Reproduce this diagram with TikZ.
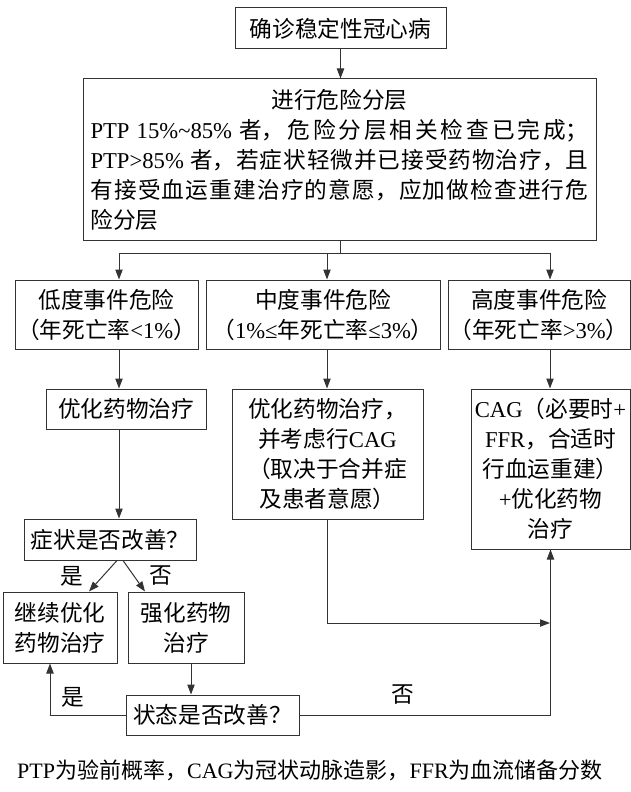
\documentclass[tikz,border=0pt]{standalone}
\usepackage{fontspec}
\setmainfont{Noto Sans CJK SC}
\newfontfamily\lat{Liberation Serif}
\usetikzlibrary{arrows.meta}
\newdimen\px \px=0.75pt
\tikzset{box/.style={draw=black!80,line width=0.75pt,inner sep=0pt,align=center,font=\fontsize{17}{22.5}\selectfont},
  arr/.style={draw=black!80,line width=0.75pt,-{Triangle[length=7.5pt,width=5.5pt]}},
  lbl/.style={font=\fontsize{17}{22.5}\selectfont}}

\begin{document}
\begin{tikzpicture}[x=0.75pt,y=-0.75pt]
\useasboundingbox (0,0) rectangle (631,792);

% create the nodes
\node[box,minimum width=211\px,minimum height=41\px] (top) at (340.5,28.5) {确诊稳定性冠心病};
\node[box,minimum width=513\px,minimum height=161\px,text width=498\px,align=justify] (risk) at (339.5,159.5)
  {\XeTeXlinebreaklocale "zh"\XeTeXlinebreakskip=0pt plus 4pt
   \makebox[498\px]{进行危险分层}\linebreak
   {\lat PTP 15\%\textasciitilde85\% }者，危险分层相关检查已完成；\linebreak
   {\lat PTP>85\% }者，若症状轻微并已接受药物治疗，且\linebreak
   有接受血运重建治疗的意愿，应加做检查进行危\linebreak
   险分层};

\node[box,minimum width=183\px,minimum height=69\px] (low) at (106.5,314.5) {低度事件危险\\（年死亡率{\lat <1\%}）};
\node[box,minimum width=234\px,minimum height=69\px] (mid) at (323,314.5) {中度事件危险\\（{\lat 1\%≤}年死亡率{\lat ≤3\%}）};
\node[box,minimum width=182\px,minimum height=69\px] (high) at (539,314.5) {高度事件危险\\（年死亡率{\lat >3\%}）};

\node[box,minimum width=160\px,minimum height=40\px] (lowopt) at (126,409) {优化药物治疗};
\node[box,minimum width=191\px,minimum height=130\px] (midopt) at (327.5,454) {优化药物治疗，\\并考虑行{\lat CAG}\\（取决于合并症\\及患者意愿）};
\node[box,minimum width=159\px,minimum height=160\px] (highopt) at (550.5,469) {{\lat CAG}（必要时{\lat +}\\{\lat FFR}，合适时\\行血运重建）\\{\lat +}优化药物\\治疗};

\node[box,minimum width=172\px,minimum height=41\px] (symp) at (110,539.5) {症状是否改善？};
\node[box,minimum width=114\px,minimum height=71\px] (cont) at (60,627.5) {继续优化\\药物治疗};
\node[box,minimum width=116\px,minimum height=71\px] (inten) at (186,627.5) {强化药物\\治疗};
\node[box,minimum width=173\px,minimum height=40\px] (state) at (212.5,715) {状态是否改善？};

% columns and turning points
\coordinate (c1) at (119,0);
\coordinate (c2) at (327,0);
\coordinate (c3) at (550,0);
\coordinate (split) at (340,253);
\coordinate (merge) at (550,623);

% connectors
\path (top.south) edge[arr] (top.south |- risk.north);
\draw[draw=black!80,line width=0.75pt] (risk.south -| split) -- (split);
\foreach \n/\c in {low/c1,mid/c2,high/c3}
  \draw[arr] (split) -| (\n.north -| \c);
\foreach \a/\b/\c in {low/lowopt/c1,mid/midopt/c2,high/highopt/c3}
  \path (\a.south -| \c) edge[arr] (\b.north -| \c);
\path (lowopt.south -| c1) edge[arr] (symp.north -| c1);

\path ([xshift=7\px]symp.south) edge[arr] ([xshift=29\px]cont.north);
\path ([xshift=13\px]symp.south) edge[arr] ([xshift=-41\px]inten.north);
\path ([xshift=5\px]inten.south) edge[arr] ([xshift=5\px]inten.south |- state.north);

\draw[arr] (state.west) -| ([xshift=-10\px]cont.south);
\draw[arr] (state.east) -| (highopt.south);
\draw[arr] (midopt.south -| c2) |- (merge);

% labels
\node[lbl] (yes1) at (72,576) {是};
\node[lbl] (no1) at (161,576) {否};
\node[lbl] (yes2) at (73,697) {是};
\node[lbl] (no2) at (403,695) {否};

\node[font=\fontsize{16.5}{20}\selectfont] (note) at (310,770)
  {{\lat PTP}为验前概率，{\lat CAG}为冠状动脉造影，{\lat FFR}为血流储备分数};

\end{tikzpicture}
\end{document}
